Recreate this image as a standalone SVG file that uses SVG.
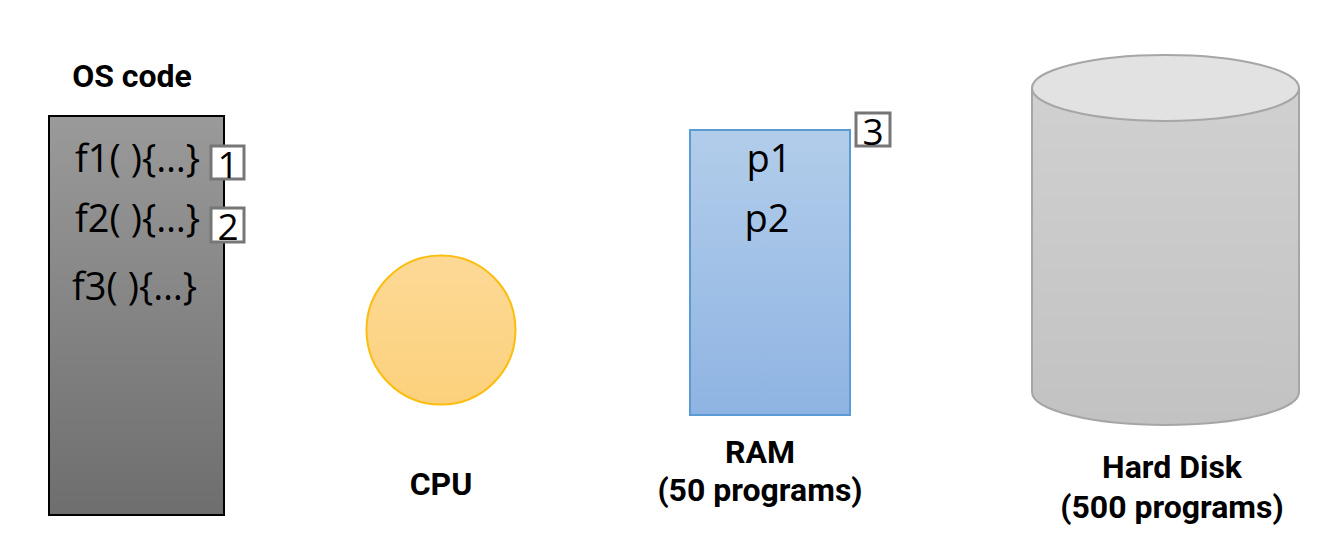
<svg xmlns="http://www.w3.org/2000/svg" width="1323" height="555" viewBox="0 0 1323 555">
<defs>
<linearGradient id="gOS" x1="0" y1="0" x2="0" y2="1"><stop offset="0" stop-color="#9a9a9a"/><stop offset="1" stop-color="#6e6e6e"/></linearGradient>
<linearGradient id="gCPU" x1="0" y1="0" x2="0" y2="1"><stop offset="0" stop-color="#fdd996"/><stop offset="1" stop-color="#fcd17c"/></linearGradient>
<linearGradient id="gRAM" x1="0" y1="0" x2="0" y2="1"><stop offset="0" stop-color="#b2cdea"/><stop offset="1" stop-color="#8fb4e3"/></linearGradient>
<linearGradient id="gHD" x1="0" y1="0" x2="0" y2="1"><stop offset="0" stop-color="#d0d0d0"/><stop offset="1" stop-color="#c2c2c2"/></linearGradient>
</defs>
<style>
.lbl{font-family:Roboto,"Liberation Sans",sans-serif;font-weight:bold;font-size:32px;fill:#000;text-anchor:middle}
.code{font-family:"Open Sans","Noto Sans",sans-serif;font-size:38px;fill:#000}
.num{fill:#fff;stroke:#767676;stroke-width:3}
.numt{font-family:"Open Sans","Noto Sans",sans-serif;font-size:37px;fill:#000;text-anchor:middle}
</style>
<rect width="1323" height="555" fill="#fff"/>
<g id="os">
<text class="lbl" x="132" y="87">OS code</text>
<rect x="49" y="116" width="175" height="399" fill="url(#gOS)" stroke="#000" stroke-width="2"/>
<text class="code" x="75" y="172" textLength="125">f1( ){…}</text>
<text class="code" x="75" y="232" textLength="125">f2( ){…}</text>
<text class="code" x="72" y="300" textLength="125">f3( ){…}</text>
</g>
<g id="n1"><rect class="num" x="211" y="146" width="33" height="33"/><text class="numt" x="228" y="178">1</text></g>
<g id="n2"><rect class="num" x="211" y="208" width="33" height="34"/><text class="numt" x="228" y="240">2</text></g>
<g id="cpu">
<circle cx="441" cy="330" r="74.5" fill="url(#gCPU)" stroke="#fbbd0e" stroke-width="2"/>
<text class="lbl" x="441" y="495">CPU</text>
</g>
<g id="ram">
<rect x="690" y="130" width="160" height="285" fill="url(#gRAM)" stroke="#5b9bd5" stroke-width="2"/>
<text class="code" x="769" y="172" text-anchor="middle">p1</text>
<text class="code" x="767" y="232" text-anchor="middle">p2</text>
<text class="lbl" x="760" y="463">RAM</text>
<text class="lbl" x="760" y="501">(50 programs)</text>
</g>
<g id="n3"><rect class="num" x="856" y="113" width="34" height="33"/><text class="numt" x="873" y="145">3</text></g>
<g id="hd">
<path d="M1032,88 L1032,392 A133.5,33 0 0 0 1299,392 L1299,88" fill="url(#gHD)" stroke="#a6a6a6" stroke-width="2"/>
<ellipse cx="1165.5" cy="88" rx="133.5" ry="33" fill="#e2e2e2" stroke="#a6a6a6" stroke-width="2"/>
<text class="lbl" x="1172" y="478">Hard Disk</text>
<text class="lbl" x="1172" y="518">(500 programs)</text>
</g>
<g id="connectors"/>
</svg>
